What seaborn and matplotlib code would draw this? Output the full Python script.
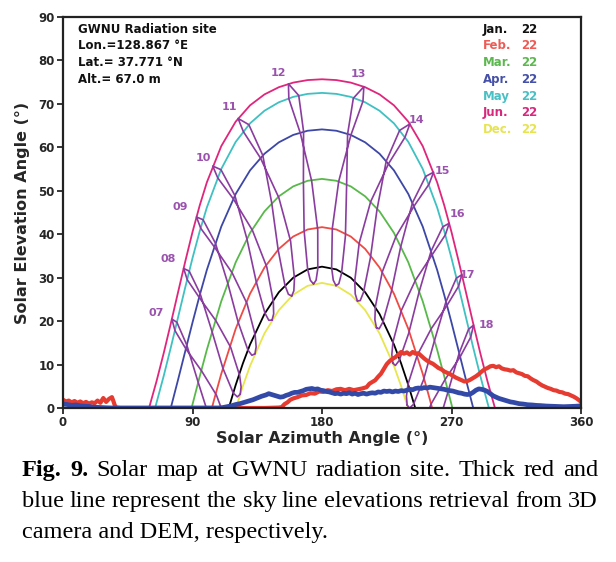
import matplotlib
matplotlib.use("Agg")
import matplotlib.pyplot as plt
import numpy as np
import pandas as pd
import seaborn as sns

# ---- sun paths on the 22nd of each month (azimuth, elevation in deg) ----
jun_az = [59.8, 65, 70, 75, 80, 85, 90, 95, 100, 110, 120, 130, 140, 150, 160, 170, 180,
          190, 200, 210, 220, 230, 240, 250, 260, 265, 270, 275, 280, 285, 290, 295, 300.2]
jun_el = [0, 6.16, 12.64, 19.56, 26.70, 33.77, 40.50, 46.61, 51.96, 60.28, 65.91, 69.67, 72.18,
          73.84, 74.90, 75.48, 75.67, 75.48, 74.90, 73.84, 72.18, 69.67, 65.91, 60.28, 51.96,
          46.61, 40.50, 33.77, 26.70, 19.56, 12.64, 6.16, 0]
may_az = [64.0, 65, 70, 75, 80, 85, 90, 95, 100, 110, 120, 130, 140, 150, 160, 170, 180,
          190, 200, 210, 220, 230, 240, 250, 260, 265, 270, 275, 280, 285, 290, 295, 296.0]
may_el = [0, 1.22, 7.39, 14.03, 20.92, 27.83, 34.50, 40.67, 46.18, 55.03, 61.25, 65.52, 68.42,
          70.37, 71.61, 72.30, 72.53, 72.30, 71.61, 70.37, 68.42, 65.52, 61.25, 55.03, 46.18,
          40.67, 34.50, 27.83, 20.92, 14.03, 7.39, 1.22, 0]
apr_az = [74.9, 80, 85, 90, 95, 100, 110, 120, 130, 140, 150, 160, 170, 180, 190, 200, 210,
          220, 230, 240, 250, 260, 265, 270, 275, 280, 285.1]
apr_el = [0, 6.55, 13.12, 19.67, 25.96, 31.81, 41.76, 49.26, 54.70, 58.52, 61.15, 62.86, 63.82,
          64.13, 63.82, 62.86, 61.15, 58.52, 54.70, 49.26, 41.76, 31.81, 25.96, 19.67, 13.12,
          6.55, 0]
mar_az = [89.4, 90, 95, 100, 110, 120, 130, 140, 150, 160, 170, 180, 190, 200, 210, 220, 230,
          240, 250, 260, 265, 270, 270.6]
mar_el = [0, 0.82, 7.23, 13.43, 24.57, 33.52, 40.31, 45.25, 48.72, 51.01, 52.30, 52.73, 52.30,
          51.01, 48.72, 45.25, 40.31, 33.52, 24.57, 13.43, 7.23, 0.82, 0]
feb_az = [103.5, 105, 110, 120, 130, 140, 150, 160, 170, 180, 190, 200, 210, 220, 230, 240,
          250, 255, 256.5]
feb_el = [0, 1.91, 7.87, 18.21, 26.31, 32.33, 36.62, 39.47, 41.09, 41.63, 41.09, 39.47, 36.62,
          32.33, 26.31, 18.21, 7.87, 1.91, 0]
jan_az = [115.2, 120, 125, 130, 140, 150, 160, 170, 180, 190, 200, 210, 220, 230, 235, 240, 244.8]
jan_el = [0, 5.28, 10.25, 14.62, 21.63, 26.65, 29.99, 31.90, 32.53, 31.90, 29.99, 26.65, 21.63,
          14.62, 10.25, 5.28, 0]
dec_az = [120.2, 125, 130, 140, 150, 160, 170, 180, 190, 200, 210, 220, 230, 235, 239.8]
dec_el = [0, 5.03, 9.69, 17.16, 22.52, 26.08, 28.12, 28.79, 28.12, 26.08, 22.52, 17.16, 9.69,
          5.03, 0]

months = ["Jan.", "Feb.", "Mar.", "Apr.", "May", "Jun.", "Dec."]

# ---- hourly analemmas (KST), points: Dec22, Jan7, Jan22, Feb22 ... Nov22, Dec7 ----
hours = ["07", "08", "09", "10", "11", "12", "13", "14", "15", "16", "17", "18"]
az07 = [114.14, 112.18, 109.25, 101.71, 93.96, 86.03, 79.15, 75.65, 77.87, 85.47, 96.39, 106.63, 113.29, 114.58]
el07 = [-7.23, -8.03, -7.38, -2.21, 5.90, 14.49, 19.73, 20.48, 17.78, 13.58, 8.50, 2.97, -2.95, -5.50]
az08 = [123.16, 121.15, 118.30, 111.13, 103.56, 95.30, 87.72, 83.83, 86.37, 94.70, 106.21, 116.50, 122.74, 123.77]
el08 = [3.17, 2.56, 3.47, 9.15, 17.61, 26.33, 31.50, 32.14, 29.51, 25.43, 20.11, 13.99, 7.51, 4.85]
az09 = [133.39, 131.28, 128.49, 121.72, 114.44, 105.90, 97.34, 92.77, 95.75, 105.17, 117.55, 127.91, 133.54, 134.23]
el09 = [12.48, 12.13, 13.36, 19.76, 28.81, 37.97, 43.33, 43.97, 41.35, 37.09, 31.11, 24.02, 16.84, 14.07]
az10 = [145.26, 143.02, 140.35, 134.26, 127.78, 119.46, 109.78, 104.06, 107.56, 118.45, 131.68, 141.62, 146.19, 146.40]
el10 = [20.22, 20.20, 21.84, 29.11, 38.97, 48.91, 54.85, 55.69, 52.96, 48.10, 40.87, 32.46, 24.50, 21.65]
az11 = [158.94, 156.65, 154.25, 149.51, 145.07, 138.86, 129.15, 121.67, 125.36, 137.29, 150.01, 158.16, 160.87, 160.43]
el11 = [25.78, 26.17, 28.26, 36.45, 47.17, 58.14, 65.22, 66.65, 63.61, 57.51, 48.40, 38.43, 29.80, 26.97]
az12 = [174.10, 171.90, 170.03, 167.58, 167.08, 167.19, 163.84, 156.68, 156.95, 164.91, 172.84, 177.04, 177.09, 175.89]
el12 = [28.55, 29.39, 31.91, 40.80, 52.02, 63.62, 71.93, 74.62, 71.18, 63.30, 52.21, 40.99, 32.07, 29.41]
az13 = [189.73, 187.83, 186.70, 187.17, 191.61, 200.10, 208.46, 209.09, 201.78, 197.79, 197.10, 196.28, 193.57, 191.70]
el13 = [28.16, 29.42, 32.25, 41.35, 52.16, 62.84, 70.60, 73.96, 71.30, 63.03, 51.17, 39.60, 30.97, 28.62]
az14 = [204.60, 203.10, 202.76, 205.85, 213.86, 226.30, 237.73, 241.10, 233.94, 224.62, 218.20, 213.65, 208.89, 206.56]
el14 = [24.64, 26.25, 29.22, 37.96, 47.53, 56.26, 62.35, 65.39, 63.90, 56.80, 45.62, 34.58, 26.66, 24.72]
az15 = [217.84, 216.76, 217.07, 221.90, 231.38, 244.04, 254.37, 257.55, 252.01, 242.85, 234.63, 228.20, 222.26, 219.71]
el15 = [18.49, 20.32, 23.29, 31.33, 39.48, 46.51, 51.51, 54.28, 53.30, 47.21, 37.01, 26.79, 19.75, 18.23]
az16 = [229.27, 228.53, 229.31, 235.11, 244.91, 256.72, 265.70, 268.41, 263.94, 255.81, 247.43, 240.23, 233.66, 231.01]
el16 = [10.31, 12.28, 15.17, 22.44, 29.40, 35.35, 39.84, 42.52, 41.71, 36.11, 26.64, 17.17, 10.94, 9.79]
az17 = [239.16, 238.69, 239.79, 246.15, 255.89, 266.90, 274.88, 277.19, 273.36, 266.12, 258.00, 250.48, 243.52, 240.80]
el17 = [0.69, 2.74, 5.51, 12.11, 18.24, 23.62, 28.00, 30.69, 29.88, 24.42, 15.33, 6.40, 0.82, -0.03]
az18 = [247.96, 247.67, 249.03, 255.81, 265.53, 276.02, 283.33, 285.34, 281.88, 275.29, 267.47, 259.74, 252.37, 249.55]
el18 = [-9.92, -7.84, -5.18, 0.91, 6.55, 11.78, 16.30, 19.07, 18.14, 12.58, 3.58, -5.05, -10.16, -10.78]

# ---- sky line: 3D camera (red) and DEM (blue) ----
cam_az = [0, 2, 4, 6, 8, 10, 12, 14, 16, 18, 20, 22, 24, 26, 28, 30, 32, 34, 35, 36, 37, 40, 60,
          80, 100, 120, 140, 150, 152, 154, 156, 158, 160, 163, 166, 169, 172, 175, 178, 181,
          184, 187, 190, 193, 196, 199, 202, 205, 208, 211, 213, 215, 217, 219, 221, 223, 225,
          227, 229, 231, 233, 235, 237, 239, 241, 243, 245, 247, 249, 251, 253, 255, 257, 259,
          261, 263, 265, 267, 269, 271, 273, 275, 277, 279, 281, 283, 285, 287, 289, 291, 293,
          295, 297, 299, 301, 303, 305, 307, 309, 311, 313, 315, 317, 319, 321, 323, 325, 327,
          329, 331, 333, 335, 337, 339, 341, 343, 345, 347, 349, 351, 353, 355, 357, 359, 360]
cam_el = [1.9, 1.5, 1.7, 1.3, 1.6, 1.2, 1.5, 1.1, 1.4, 1.0, 1.3, 1.1, 1.7, 1.2, 2.3, 1.4, 2.1,
          2.5, 1.6, 0.6, 0.1, 0, 0, 0, 0, 0, 0, 0.1, 0.2, 0.9, 1.3, 1.9, 2.2, 2.5, 2.9, 3.0, 3.4,
          3.3, 3.8, 3.7, 4.1, 3.9, 4.3, 4.4, 4.1, 4.4, 4.1, 4.3, 4.5, 4.8, 5.6, 6.0, 6.4, 7.2,
          7.9, 9.0, 10.1, 10.8, 11.3, 11.7, 12.3, 12.9, 12.5, 12.8, 12.3, 12.9, 12.5, 12.6, 12.0,
          11.4, 10.9, 10.5, 10.2, 9.7, 9.2, 8.9, 8.4, 8.1, 7.8, 7.4, 7.0, 6.7, 6.4, 6.1, 6.2,
          6.5, 6.9, 7.3, 7.8, 8.4, 8.9, 9.2, 9.6, 9.7, 9.4, 9.6, 9.1, 8.9, 8.8, 8.6, 8.7, 8.2,
          8.0, 7.8, 7.4, 7.3, 6.8, 6.4, 6.1, 5.6, 5.2, 4.9, 4.6, 4.4, 4.1, 4.0, 3.7, 3.6, 3.3,
          3.2, 2.9, 2.6, 2.2, 1.7, 1.4]
dem_az = [0, 3, 6, 9, 12, 15, 18, 21, 24, 27, 30, 35, 60, 90, 108, 111, 114, 117, 120, 123, 126,
          129, 132, 135, 138, 141, 143, 145, 147, 149, 151, 153, 155, 157, 159, 161, 163, 165,
          167, 169, 171, 173, 175, 177, 179, 181, 183, 185, 187, 189, 191, 193, 195, 197, 199,
          201, 203, 205, 207, 209, 211, 213, 215, 217, 219, 221, 223, 225, 227, 229, 231, 233,
          235, 237, 239, 241, 243, 245, 247, 249, 251, 253, 255, 257, 259, 261, 263, 265, 267,
          269, 271, 273, 275, 277, 279, 281, 283, 285, 287, 289, 291, 293, 295, 297, 299, 301,
          303, 305, 307, 309, 311, 313, 315, 317, 320, 323, 326, 329, 332, 336, 340, 344, 348,
          352, 356, 360]
dem_el = [0.9, 0.8, 0.6, 0.7, 0.5, 0.4, 0.35, 0.2, 0.15, 0.1, 0.05, 0, 0, 0, 0, 0.1, 0.3, 0.5,
          0.8, 1.0, 1.3, 1.6, 1.9, 2.3, 2.7, 3.0, 3.3, 3.1, 2.9, 2.7, 2.5, 2.6, 2.9, 3.1, 3.4,
          3.6, 3.6, 3.8, 4.0, 4.3, 4.4, 4.5, 4.3, 4.4, 4.1, 4.0, 3.8, 3.7, 3.5, 3.3, 3.4, 3.2,
          3.4, 3.3, 3.5, 3.2, 3.4, 3.1, 3.3, 3.4, 3.2, 3.4, 3.5, 3.4, 3.7, 3.6, 3.9, 3.8, 3.9,
          3.7, 3.9, 3.8, 4.0, 3.9, 4.1, 4.3, 4.2, 4.5, 4.6, 4.5, 4.7, 4.6, 4.8, 4.7, 4.6, 4.5,
          4.4, 4.3, 4.1, 4.0, 3.9, 3.7, 3.5, 3.4, 3.2, 3.1, 3.2, 3.6, 4.1, 4.4, 4.3, 4.1, 3.8,
          3.3, 2.8, 2.5, 2.2, 2.0, 1.8, 1.6, 1.4, 1.3, 1.15, 1.0, 0.9, 0.75, 0.7, 0.6, 0.55,
          0.45, 0.4, 0.35, 0.3, 0.35, 0.4, 0.5]

day_colors = {"Jan.": "#000000", "Feb.": "#ef4a43", "Mar.": "#58b94a", "Apr.": "#3d47a6",
              "May": "#3fc0c2", "Jun.": "#e0267c", "Dec.": "#e8e64c"}
legend_colors = {"Jan.": "#111111", "Feb.": "#ee5a55", "Mar.": "#5cb84e", "Apr.": "#4550a8",
                 "May": "#48c0c4", "Jun.": "#d8287e", "Dec.": "#e6e450"}
loop_color = "#8a3c9f"
hour_color = "#9a52ad"

# ---- tables for seaborn ----
day_az = [jan_az, feb_az, mar_az, apr_az, may_az, jun_az, dec_az]
day_el = [jan_el, feb_el, mar_el, apr_el, may_el, jun_el, dec_el]
days = pd.concat([pd.DataFrame({"az": a, "el": e, "month": m})
                  for m, a, e in zip(months, day_az, day_el)], ignore_index=True)

loop_az = [az07, az08, az09, az10, az11, az12, az13, az14, az15, az16, az17, az18]
loop_el = [el07, el08, el09, el10, el11, el12, el13, el14, el15, el16, el17, el18]
loops = pd.concat([pd.DataFrame({"az": a + a[:1], "el": e + e[:1], "hour": h})
                   for h, a, e in zip(hours, loop_az, loop_el)], ignore_index=True)

cam = pd.DataFrame({"az": cam_az, "el": cam_el})
dem = pd.DataFrame({"az": dem_az, "el": dem_el})

# ---- figure ----
sns.set_style("ticks")
plt.rcParams["font.family"] = ["DejaVu Sans"]

W, H = 616, 562
fig = plt.figure(figsize=(W / 100, H / 100), dpi=100)
ax = fig.add_axes([63 / W, 1 - 408 / H, 518 / W, 391 / H])

sns.lineplot(data=days, x="az", y="el", hue="month", hue_order=months, palette=day_colors,
             estimator=None, sort=False, legend=False, linewidth=1.3, ax=ax)
sns.lineplot(data=loops, x="az", y="el", units="hour", estimator=None, sort=False,
             color=loop_color, linewidth=1.2, ax=ax)
sns.lineplot(data=cam, x="az", y="el", estimator=None, sort=False, color="#e53b30",
             linewidth=3.0, ax=ax)
sns.lineplot(data=dem, x="az", y="el", estimator=None, sort=False, color="#3349a8",
             linewidth=3.4, ax=ax)

# hour labels next to the top (Jun 22) point of each loop, offsets in points
offsets = [(-11, 4), (-11, 7), (-12, 7), (-7, 6), (-6, 8), (-7, 8),
           (-4, 9), (5, 3), (6, 1), (6, 7), (4, 0), (9, 0)]
for h, a, e, off in zip(hours, loop_az, loop_el, offsets):
    ax.annotate(h, (a[7], e[7]), xytext=off, textcoords="offset points",
                ha="center", va="center", fontsize=8, fontweight="bold", color=hour_color)

ax.set_xlim(0, 360)
ax.set_ylim(0, 90)
ax.set_xticks([0, 90, 180, 270, 360])
ax.set_yticks(np.arange(0, 91, 10))
ax.tick_params(direction="out", length=4, width=1.3, labelsize=8.5, pad=2)
for lab in ax.get_xticklabels() + ax.get_yticklabels():
    lab.set_fontweight("bold")
for sp in ax.spines.values():
    sp.set_linewidth(1.6)
    sp.set_color("#222222")

ax.set_xlabel("Solar Azimuth Angle (°)", fontsize=11.5, fontweight="bold")
ax.set_ylabel("Solar Elevation Angle (°)", fontsize=11.5, fontweight="bold")
ax.xaxis.set_label_coords(0.5, -0.058)
ax.yaxis.set_label_coords(-0.064, 0.5)

info = ["GWNU Radiation site", "Lon.=128.867 °E", "Lat.= 37.771 °N", "Alt.= 67.0 m"]
for i, s in enumerate(info):
    ax.text(0.029, 0.969 - i * 0.0427, s, transform=ax.transAxes, ha="left", va="center",
            fontsize=8.5, fontweight="bold", color="#111111")

for i, m in enumerate(months):
    y = 0.969 - i * 0.0428
    ax.text(0.811, y, m, transform=ax.transAxes, ha="left", va="center", fontsize=8.5,
            fontweight="bold", color=legend_colors[m])
    ax.text(0.884, y, "22", transform=ax.transAxes, ha="left", va="center", fontsize=8.5,
            fontweight="bold", color=legend_colors[m])

# ---- caption (justified like the journal text) ----
cap_font = dict(fontsize=17.5, family="Liberation Serif", color="black")
r = fig.canvas.get_renderer()


def justify(words, y_px, x0=22, x1=598, n_bold=0):
    texts = [fig.text(0, 1 - y_px / H, w, fontweight="bold" if i < n_bold else "normal",
                      ha="left", va="baseline", **cap_font) for i, w in enumerate(words)]
    widths = [t.get_window_extent(r).width for t in texts]
    gap = (x1 - x0 - sum(widths)) / (len(words) - 1)
    x = x0
    for t, w in zip(texts, widths):
        t.set_x(x / W)
        x += w + gap


justify("Fig. 9. Solar map at GWNU radiation site. Thick red and".split(), 476, n_bold=2)
justify("blue line represent the sky line elevations retrieval from 3D".split(), 507)
fig.text(22 / W, 1 - 538 / H, "camera and DEM, respectively.", ha="left", va="baseline",
         **cap_font)

fig.savefig("out.png", dpi=100)
